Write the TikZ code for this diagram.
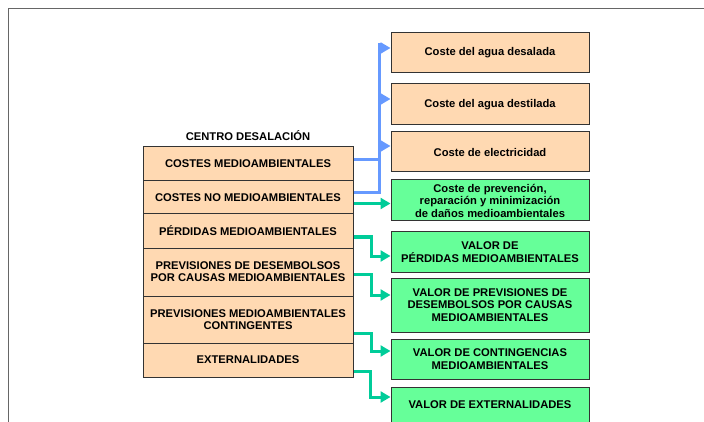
\documentclass[tikz,border=0pt]{standalone}
\usepackage{fontspec}
\setmainfont{Liberation Sans}
\usetikzlibrary{arrows.meta}
\definecolor{melocoton}{RGB}{255,217,178}
\definecolor{verdecaja}{RGB}{102,255,153}
\definecolor{verdeflecha}{RGB}{0,204,153}
\definecolor{azulflecha}{RGB}{102,153,255}
\tikzset{
    fila/.style={draw=black!80,line width=1pt,fill=melocoton,minimum width=210pt,inner sep=0pt,align=center,font=\bfseries\fontsize{11.2}{12}\selectfont},
    caja/.style={draw=black!80,line width=1pt,minimum width=198pt,inner sep=0pt,align=center,font=\bfseries\fontsize{11.2}{12.5}\selectfont},
    azul/.style={azulflecha,line width=3pt},
    verde/.style={verdeflecha,line width=3pt},
    >={Triangle[length=10pt,width=11pt]}
}
\begin{document}
\begin{tikzpicture}[x=1pt,y=-1pt]
    \useasboundingbox (0,0) rectangle (704,422);
    \draw [black!60,line width=1pt] (8,422)--(8,8.5)--(704,8.5);

    \node [font=\bfseries\fontsize{11.2}{12}\selectfont] (titulo) at (248,136) {CENTRO DESALACIÓN};
    \node [fila,minimum height=34pt] (costes) at (248,164) {COSTES MEDIOAMBIENTALES};
    \node [fila,minimum height=33pt] (nocostes) at (248,197.5) {COSTES NO MEDIOAMBIENTALES};
    \node [fila,minimum height=34pt] (perdidas) at (248,231) {PÉRDIDAS MEDIOAMBIENTALES};
    \node [fila,minimum height=48pt] (desembolsos) at (248,272) {PREVISIONES DE DESEMBOLSOS\\POR CAUSAS MEDIOAMBIENTALES};
    \node [fila,minimum height=47pt] (contingentes) at (248,319.5) {PREVISIONES MEDIOAMBIENTALES\\CONTINGENTES};
    \node [fila,minimum height=34pt] (externalidades) at (248,360) {EXTERNALIDADES};

    \node [caja,fill=melocoton,minimum height=40pt] (desalada) at (490,53) {Coste del agua desalada};
    \node [caja,fill=melocoton,minimum height=41pt] (destilada) at (490,104.5) {Coste del agua destilada};
    \node [caja,fill=melocoton,minimum height=40pt] (electricidad) at (490,152) {Coste de electricidad};
    \node [caja,fill=verdecaja,minimum height=41pt] (prevencion) at (490,200.5) {Coste de prevención,\\reparación y minimización\\de daños medioambientales};
    \node [caja,fill=verdecaja,minimum height=40pt] (valperdidas) at (490,252) {VALOR DE\\PÉRDIDAS MEDIOAMBIENTALES};
    \node [caja,fill=verdecaja,minimum height=54pt] (valdesembolsos) at (490,305) {VALOR DE PREVISIONES DE\\DESEMBOLSOS POR CAUSAS\\MEDIOAMBIENTALES};
    \node [caja,fill=verdecaja,minimum height=40pt] (valcontingencias) at (490,359) {VALOR DE CONTINGENCIAS\\MEDIOAMBIENTALES};
    \node [caja,fill=verdecaja,minimum height=36pt] (valexternalidades) at (490,405) {VALOR DE EXTERNALIDADES};

    \coordinate (bus) at (379,43);
    \draw [azul] ([yshift=4pt]costes.east)--([yshift=4pt]costes.east -| bus);
    \draw [azul] ([yshift=5pt]nocostes.east) -| (bus);
    \draw [azul,->] ([yshift=5pt]desalada.west -| bus)--([yshift=5pt]desalada.west);
    \draw [azul,->] ([yshift=5.5pt]destilada.west -| bus)--([yshift=5.5pt]destilada.west);
    \draw [azul,->] ([yshift=6pt]electricidad.west -| bus)--([yshift=6pt]electricidad.west);

    \draw [verde,->] ([yshift=-6pt]nocostes.east)--([yshift=-6pt]nocostes.east -| prevencion.west);
    \draw [verde,->] ([yshift=-6pt]perdidas.east)--++(18,0) |- ([yshift=-4pt]valperdidas.west);
    \draw [verde,->] ([yshift=-2pt]desembolsos.east)--++(18,0) |- ([yshift=10pt]valdesembolsos.west);
    \draw [verde,->] ([yshift=-13.5pt]contingentes.east)--++(18,0) |- ([yshift=8pt]valcontingencias.west);
    \draw [verde,->] ([yshift=-11pt]externalidades.east)--++(17,0) |- ([yshift=8pt]valexternalidades.west);
\end{tikzpicture}
\end{document}
